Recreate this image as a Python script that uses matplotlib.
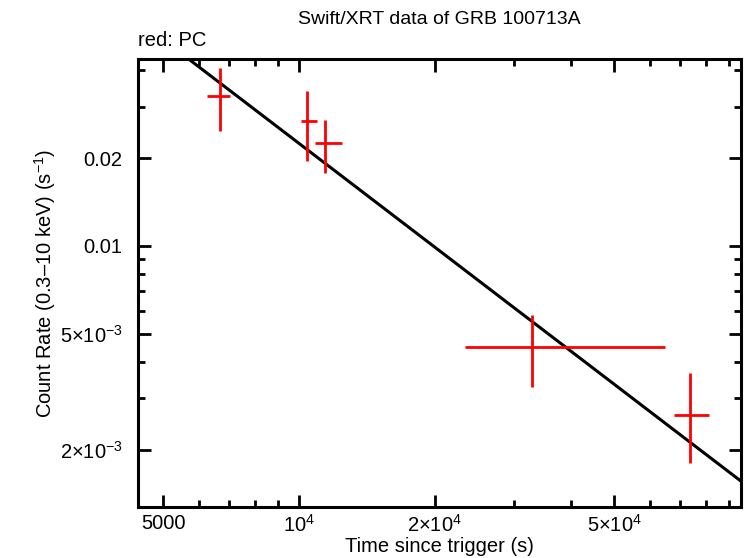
import numpy as np
import matplotlib
matplotlib.use('Agg')
import matplotlib.pyplot as plt
from matplotlib.ticker import FixedLocator, FixedFormatter, NullFormatter

plt.rcParams['font.family'] = ['Liberation Sans', 'DejaVu Sans']
plt.rcParams['mathtext.fontset'] = 'custom'
plt.rcParams['mathtext.rm'] = 'Liberation Sans'
plt.rcParams['mathtext.it'] = 'Liberation Sans:italic'

# Swift/XRT PC mode points (time in s, rate in counts/s)
t = [6690, 10420, 11440, 32900, 73700]
t_lo = [6260, 10100, 10850, 23340, 67850]
t_hi = [7030, 10950, 12460, 64800, 81100]
rate = [0.0327, 0.0268, 0.02254, 0.00451, 0.002634]
rate_lo = [0.0247, 0.0196, 0.01777, 0.003287, 0.001792]
rate_hi = [0.0408, 0.0339, 0.0271, 0.005778, 0.003651]

# power-law fit
fit_norm = 0.02248   # rate at 1e4 s
fit_index = 1.183

t = np.array(t); rate = np.array(rate)
xerr = [t - np.array(t_lo), np.array(t_hi) - t]
yerr = [rate - np.array(rate_lo), np.array(rate_hi) - rate]

fig = plt.figure(figsize=(7.46, 5.58), dpi=100)
ax = fig.add_axes([138/746, 1 - 507/558, (741-138)/746, (507-59)/558])

ax.set_xscale('log')
ax.set_yscale('log')
xmin, xmax = 4395, 95500
ax.set_xlim(xmin, xmax)
ax.set_ylim(1.27e-3, 0.0438)

tt = np.logspace(np.log10(xmin), np.log10(xmax), 200)
ax.plot(tt, fit_norm * (tt / 1e4) ** (-fit_index), color='black', lw=2.2, zorder=2)

ax.errorbar(t, rate, xerr=xerr, yerr=yerr, fmt='none', ecolor='#ff0000',
            elinewidth=2.0, capsize=0, zorder=3)

ax.xaxis.set_major_locator(FixedLocator([5000, 1e4, 2e4, 5e4]))
ax.xaxis.set_major_formatter(FixedFormatter(['5000', r'$10^4$', r'$2{\times}10^4$', r'$5{\times}10^4$']))
ax.xaxis.set_minor_locator(FixedLocator([6000, 7000, 8000, 9000, 3e4, 4e4, 6e4, 7e4, 8e4, 9e4]))
ax.xaxis.set_minor_formatter(NullFormatter())

ax.yaxis.set_major_locator(FixedLocator([2e-3, 5e-3, 0.01, 0.02]))
ax.yaxis.set_major_formatter(FixedFormatter([r'$2{\times}10^{-3}$', r'$5{\times}10^{-3}$', '0.01', '0.02']))
ax.yaxis.set_minor_locator(FixedLocator([3e-3, 4e-3, 6e-3, 7e-3, 8e-3, 9e-3, 0.03, 0.04]))
ax.yaxis.set_minor_formatter(NullFormatter())

ax.tick_params(which='both', direction='in', top=True, right=True, labelsize=14.5, width=2)
ax.tick_params(which='major', length=9)
ax.tick_params(axis='x', which='major', pad=5)
ax.tick_params(axis='y', which='major', pad=11)
ax.tick_params(which='minor', length=5)
for s in ax.spines.values():
    s.set_linewidth(2.2)

fig.text((138 + 741) / 2 / 746, 1 - 547 / 558, 'Time since trigger (s)',
         ha='center', va='center', fontsize=14.5)
fig.text(45 / 746, 1 - 283 / 558, 'Count Rate (0.3\u201310 keV) (s$^{-1}$)',
         ha='center', va='center', rotation=90, fontsize=14.5)
fig.text((138 + 741) / 2 / 746, 1 - 20 / 558, 'Swift/XRT data of GRB 100713A',
         ha='center', va='center', fontsize=14)
fig.text(138 / 746, 1 - 40 / 558, 'red: PC', ha='left', va='center', fontsize=14.5)

fig.savefig('out.png', dpi=100)
